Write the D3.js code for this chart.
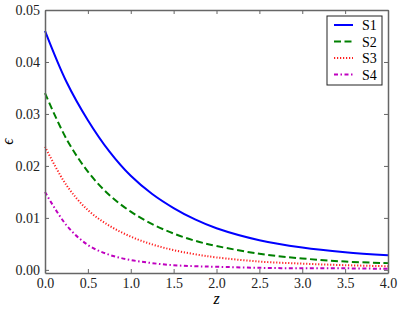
<!DOCTYPE html>
<html>
<head>
<meta charset="utf-8">
<script src="https://cdn.jsdelivr.net/npm/d3@7"></script>
<style>
  body { margin: 0; background: #fff; }
</style>
</head>
<body>
<script>
// data
var zValues = [0, 0.25, 0.5, 0.75, 1.0, 1.25, 1.5, 1.75, 2.0, 2.5, 3.0, 3.5, 4.0];
var s1 = [0.0460, 0.0362, 0.0288, 0.0228, 0.0181, 0.0146, 0.0119, 0.0097, 0.0080, 0.0057, 0.0043, 0.0034, 0.0028];
var s2 = [0.0340, 0.0252, 0.0189, 0.0144, 0.0112, 0.0088, 0.0070, 0.0056, 0.0046, 0.0031, 0.0022, 0.0016, 0.0013];
var s3 = [0.0237, 0.0163, 0.0115, 0.0085, 0.0064, 0.0049, 0.0038, 0.0030, 0.0024, 0.0016, 0.0012, 0.0009, 0.0007];
var s4 = [0.0150, 0.0086, 0.0048, 0.0029, 0.0019, 0.0013, 0.0009, 0.0007, 0.0006, 0.0004, 0.0003, 0.0003, 0.0002];
var seriesNames = ["S1", "S2", "S3", "S4"];
var xTicks = [0, 0.5, 1, 1.5, 2, 2.5, 3, 3.5, 4];
var yTicks = [0, 0.01, 0.02, 0.03, 0.04, 0.05];

var W = 399, H = 309;
var margin = {top: 10, right: 11, bottom: 36, left: 45};
var serif = "'Liberation Serif', 'Times New Roman', 'DejaVu Serif', serif";

var svg = d3.select("body").append("svg")
    .attr("width", W)
    .attr("height", H)
    .attr("font-family", serif);

var x = d3.scaleLinear().domain([0, 4]).range([margin.left, W - margin.right]);
var y = d3.scaleLinear().domain([-0.0006, 0.05]).range([H - margin.bottom, margin.top]);

var styles = [
  {color: "#0000ff", dash: null},
  {color: "#008000", dash: "7,3.5"},
  {color: "#ff2020", dash: "1.2,1.8"},
  {color: "#bf00bf", dash: "4,2.5,1.5,2.5"}
];

var allSeries = [s1, s2, s3, s4];

var line = d3.line()
    .x(function(d) { return x(d[0]); })
    .y(function(d) { return y(d[1]); })
    .curve(d3.curveCatmullRom.alpha(0.5));

var g = svg.append("g");
allSeries.forEach(function(vals, i) {
  var pts = zValues.map(function(z, j) { return [z, vals[j]]; });
  g.append("path")
    .attr("d", line(pts))
    .attr("fill", "none")
    .attr("stroke", styles[i].color)
    .attr("stroke-width", 2)
    .attr("stroke-dasharray", styles[i].dash);
});

// axes with inward ticks on all four sides
var tickLen = 4;
var frameColor = "#666";
var bottomAxis = d3.axisBottom(x).tickValues(xTicks).tickSizeInner(-tickLen).tickSizeOuter(0).tickPadding(5)
    .tickFormat(d3.format(".1f"));
var leftAxis = d3.axisLeft(y).tickValues(yTicks).tickSizeInner(-tickLen).tickSizeOuter(0).tickPadding(5)
    .tickFormat(d3.format(".2f"));
var topAxis = d3.axisTop(x).tickValues(xTicks).tickSizeInner(-tickLen).tickSizeOuter(0).tickFormat("");
var rightAxis = d3.axisRight(y).tickValues(yTicks).tickSizeInner(-tickLen).tickSizeOuter(0).tickFormat("");

function styleAxis(sel) {
  sel.attr("font-family", serif).attr("font-size", 14);
  sel.select(".domain").attr("stroke", frameColor).attr("stroke-width", 1.5);
  sel.selectAll(".tick line").attr("stroke", frameColor).attr("stroke-width", 1);
  sel.selectAll(".tick text").attr("fill", "#222");
}

svg.append("g").attr("transform", "translate(0," + (H - margin.bottom) + ")").call(bottomAxis).call(styleAxis);
svg.append("g").attr("transform", "translate(" + margin.left + ",0)").call(leftAxis).call(styleAxis);
svg.append("g").attr("transform", "translate(0," + margin.top + ")").call(topAxis).call(styleAxis);
svg.append("g").attr("transform", "translate(" + (W - margin.right) + ",0)").call(rightAxis).call(styleAxis);

// axis labels
svg.append("text")
    .attr("x", (margin.left + W - margin.right) / 2)
    .attr("y", 304)
    .attr("text-anchor", "middle")
    .attr("font-size", 16)
    .attr("font-style", "italic")
    .text("z");

svg.append("text")
    .attr("transform", "translate(13," + ((margin.top + H - margin.bottom) / 2) + ") rotate(-90)")
    .attr("text-anchor", "middle")
    .attr("font-size", 16)
    .attr("font-style", "italic")
    .text("ϵ");

// legend
var lg = svg.append("g").attr("transform", "translate(327,16)");
lg.append("rect")
    .attr("width", 55).attr("height", 69)
    .attr("fill", "#fff").attr("stroke", "#222").attr("stroke-width", 1);
seriesNames.forEach(function(name, i) {
  var yy = 9 + i * 16.5;
  lg.append("line")
    .attr("x1", 7).attr("x2", 26).attr("y1", yy).attr("y2", yy)
    .attr("stroke", styles[i].color).attr("stroke-width", 2)
    .attr("stroke-dasharray", styles[i].dash);
  lg.append("text")
    .attr("x", 35).attr("y", yy + 5)
    .attr("font-size", 14)
    .text(name);
});
</script>
</body>
</html>
